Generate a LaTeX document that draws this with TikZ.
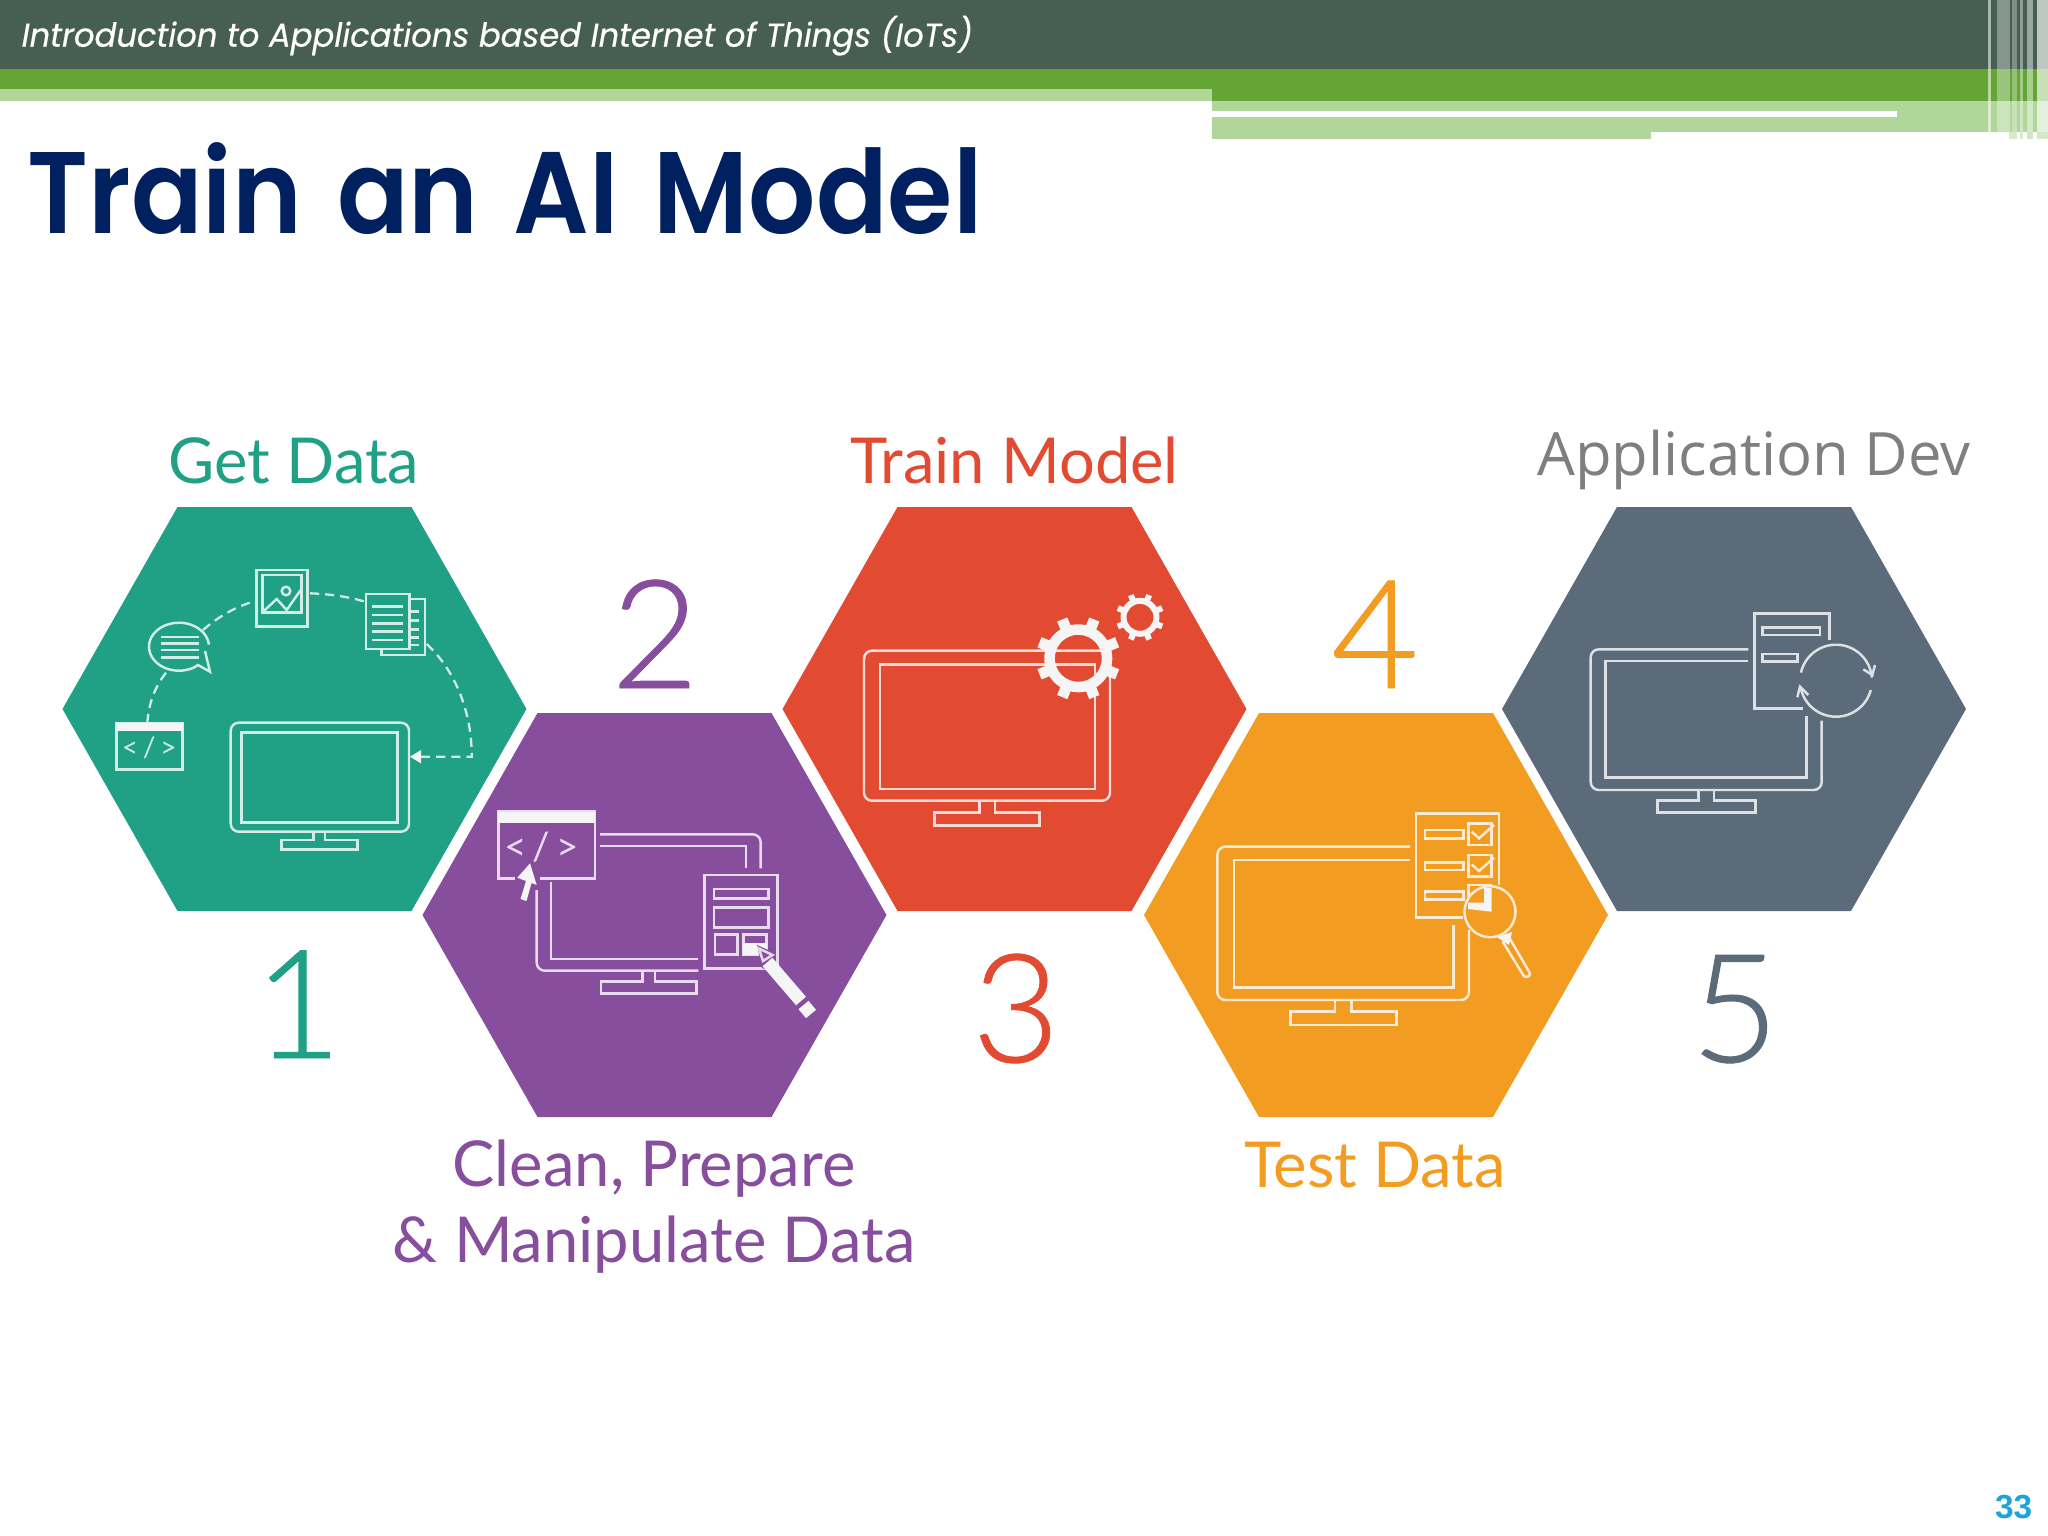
\documentclass[tikz,border=0pt]{standalone}
\usepackage{fontspec}
\setmainfont{Lato}
\newfontfamily\latolight{Lato Light}
\newfontfamily\latonum[FakeBold=0.6]{Lato Light}
\newfontfamily\opensans{Open Sans}
\newfontfamily\poppinsh[FakeBold=0.5,FakeStretch=0.975]{Poppins}
\newfontfamily\poppinst[FakeStretch=0.91,WordSpace=1.4]{Poppins SemiBold}
\newfontfamily\libsans{Liberation Sans}
\definecolor{cteal}{HTML}{20A084}
\definecolor{cpurple}{HTML}{874E9E}
\definecolor{cred}{HTML}{E24A32}
\definecolor{corange}{HTML}{F39C22}
\definecolor{cslate}{HTML}{5B6B7A}
\definecolor{cdark}{HTML}{465F52}
\definecolor{cgreen}{HTML}{65A536}
\definecolor{clight}{HTML}{B0D69A}
\definecolor{cnavy}{HTML}{00205F}
\definecolor{cpage}{HTML}{1FA3DC}
\definecolor{cappdev}{HTML}{7F7F7F}
\newcommand{\fsz}[1]{\fontsize{#1}{#1}\selectfont}
\tikzset{
  x=0.01cm,y=-0.01cm,
  hexa/.style={fill=#1,draw=none},
  icon/.style={draw=ic,line width=0.7pt,line cap=butt,fill=none},
  iconf/.style={fill=icw,draw=none},
  dashline/.style={draw=ic,line width=0.65pt,dash pattern=on 2.6pt off 1.7pt},
  lab/.style={anchor=base,inner sep=0pt,font=\fsz{18pt}},
  num/.style={anchor=base,inner sep=0pt,font=\latonum\fsz{43pt}},
  code/.style={anchor=center,inner sep=0pt,text=ic},
}
\newcommand{\hexat}[3]{\fill[hexa=#3] ({#1-232},#2) -- ({#1-117},{#2-202}) -- ({#1+117},{#2-202}) -- ({#1+232},#2) -- ({#1+117},{#2+202}) -- ({#1-117},{#2+202}) -- cycle;}
\newcommand{\gearat}[7]{% cx cy rin rbody rtooth toothw start
  \fill[icw,even odd rule] (#1,#2) circle[radius=#4] (#1,#2) circle[radius=#3];
  \foreach \a in {0,45,...,315}
    \draw[icw,line width=#6*0.2845pt] ({#1+(#4-2)*cos(\a+#7)},{#2+(#4-2)*sin(\a+#7)}) -- ({#1+#5*cos(\a+#7)},{#2+#5*sin(\a+#7)});
}
\colorlet{icw}{white!96!black}
\begin{document}
\begin{tikzpicture}
\useasboundingbox (0,0) rectangle (2048,1536);
\fill[white] (0,0) rectangle (2048,1536);
% header
\fill[cdark] (0,0) rectangle (2048,69);
\fill[cgreen] (0,69) rectangle (2048,89);
\fill[clight] (0,89) rectangle (1211.5,100.7);
\fill[cgreen] (1211.5,89) rectangle (2048,100.7);
\fill[clight] (1211.5,100.7) rectangle (2048,131.7);
\fill[clight] (1211.5,131.7) rectangle (1651,138.7);
\fill[white] (1211.5,111) rectangle (1897,117.3);
\foreach \xa/\xb/\op in {1987.5/1990.5/.55,1997/2010/.35,2012/2017/.3,2020/2023/.4,2027/2033/.45,2037/2048/.65}
  \fill[white,opacity=\op] (\xa,0) rectangle (\xb,131.7);
\foreach \xa/\xb/\op in {2009/2017/.5,2020/2023/.5,2027/2033/.6,2037/2048/.55}
  \fill[clight,opacity=\op] (\xa,131.7) rectangle (\xb,138.7);
\node[anchor=base west,inner sep=0pt,text=white,font=\poppinsh\itshape\fsz{9.4pt}] (headtext) at (21,46.7) {Introduction to Applications based Internet of Things (IoTs)};
\node[anchor=base west,inner sep=0pt,text=cnavy,font=\poppinst\fsz{33pt}] (title) at (27,233) {Train an AI Model};
% hexagons
\hexat{294.5}{709}{cteal}
\hexat{654.5}{915}{cpurple}
\hexat{1014.5}{709}{cred}
\hexat{1376}{915}{corange}
\hexat{1734}{709}{cslate}
% labels
\node[lab,text=cteal] (l1) at (294,483) {Get Data};
\node[lab,text=cred] (l3) at (1014.5,483) {Train Model};
\node[lab,text=cappdev,font=\opensans\fsz{17pt}] (l5) at (1754,475) {Application Dev};
\node[lab,text=cpurple] (l2a) at (654,1186) {Clean, Prepare};
\node[lab,text=cpurple] (l2b) at (654,1262) {\& Manipulate Data};
\node[lab,text=corange] (l4) at (1375,1187) {Test Data};
\node[num,text=cteal] (n1) at (298,1058) {1};
\node[num,text=cpurple] (n2) at (655,688) {2};
\node[num,text=cred] (n3) at (1016,1062) {3};
\node[num,text=corange] (n4) at (1375,688) {4};
\node[num,text=cslate] (n5) at (1735,1062) {5};
\node[anchor=base east,inner sep=0pt,text=cpage,font=\libsans\bfseries\fsz{9.5pt}] (page) at (2033,1518) {33};
% ---- icon 1
\colorlet{ic}{white!80!cteal}
\draw[icon,rounded corners=0.8mm] (230.7,722.7) rectangle (409,831.7);
\draw[icon] (241.7,732.3) rectangle (397.3,822.3);
\draw[icon] (313.3,831.7) -- (313.3,840) -- (281.7,840) -- (281.7,849.3) -- (357.7,849.3) -- (357.7,840) -- (325,840) -- (325,831.7);
\draw[icon] (116.7,723.3) rectangle (182.7,769.3);
\fill[iconf] (116.7,723.3) rectangle (182.7,730.7);
\node[code,font=\fsz{8pt}] (code1) at (149.3,748) {<\,/\,>};
\draw[icon] (205,651) -- (210,671.7) -- (198,665) -- plot[domain=60:355,samples=40] ({179+30*cos(\x)},{646.7+24*sin(\x)});
\foreach \yy in {637,643.5,650,657.5} \draw[icon] (161,\yy) -- (199.3,\yy);
\draw[icon] (256.7,570) rectangle (307.3,626.7);
\draw[icon] (262.3,575) rectangle (301.7,612.7);
\draw[icon] (263,611.7) -- (276.7,599) -- (286.7,610) -- (300.7,590);
\draw[icon] (286,591) circle[radius=4.3];
\draw[icon] (381.7,649) -- (381.7,655) -- (425,655) -- (425,599) -- (409.3,599);
\draw[icon] (366,594) rectangle (409.3,649);
\foreach \yy in {606.7,615,623.3,631.7,640} \draw[icon] (371.7,\yy) -- (403.3,\yy);
\foreach \yy in {611.7,620.7,629.3,637.3,645} \draw[icon] (410,\yy) -- (419.3,\yy);
\draw[dashline] (147.3,723) .. controls (149,700) and (157,683) .. (168.3,670);
\draw[dashline] (203,630) .. controls (218,617) and (235,607) .. (253,601.7);
\draw[dashline] (310,593.3) .. controls (330,594) and (350,597) .. (365,601.7);
\draw[dashline] (426.7,644) .. controls (455,670) and (472,712) .. (471.7,756.7) -- (421,756.7);
\fill[iconf] (410,756.7) -- (421,750) -- (421,763.4) -- cycle;
% ---- icon 2
\colorlet{ic}{white!80!cpurple}
\draw[icon] (498.3,811.7) rectangle (595,878.3);
\fill[iconf] (498.3,811.7) rectangle (595,822.7);
\node[code,font=\fsz{11pt}] (code2) at (541.7,846.7) {<\,/\,>};
\draw[icon,rounded corners=0.8mm] (600,834.3) -- (760.7,834.3) -- (760.7,868.3);
\draw[icon] (600,846) -- (746,846) -- (746,868.3);
\draw[icon,rounded corners=0.8mm] (536.7,883.3) -- (536.7,970.7) -- (698.3,970.7);
\draw[icon] (551,881.7) -- (551,959) -- (698.3,959);
\draw[icon] (642.3,971) -- (642.3,981.7) -- (601,981.7) -- (601,993.3) -- (696.7,993.3) -- (696.7,981.7) -- (655,981.7) -- (655,971);
\fill[cpurple] (515,875) rectangle (540,890);
\fill[iconf] (530,863.3) -- (517.3,877.7) -- (526,881) -- (520.5,899) -- (526.5,901) -- (531.5,883) -- (536.7,885) -- cycle;
\draw[icon] (704.3,875) rectangle (777.7,968.3);
\draw[icon] (714,889) rectangle (768.3,898.3);
\draw[icon] (714,907.3) rectangle (768.3,927.7);
\draw[icon] (715,934.3) rectangle (737.7,954.3);
\draw[icon] (743.3,934.3) rectangle (766.7,955);
\fill[iconf] (743.3,943.3) rectangle (766.7,955);
\fill[cpurple] (757,945) -- (775,953) -- (773,972) -- (762,968) -- cycle;
\draw[icon] (759,948.5) -- (772.5,955) -- (763,961) -- cycle;
\draw[icw,line width=3.7pt] (767.5,962) -- (801,1001);
\draw[icw,line width=3.7pt] (803.5,1005) -- (811,1014);
% ---- icon 3
\colorlet{ic}{white!80!cred}
\draw[icon,rounded corners=0.8mm] (864,650.7) rectangle (1110,800.7);
\draw[icon] (880,664.3) rectangle (1095,789);
\draw[icon] (979.3,800.7) -- (979.3,812.3) -- (934.3,812.3) -- (934.3,825.7) -- (1039.3,825.7) -- (1039.3,812.3) -- (995,812.3) -- (995,800.7);
\gearat{1078.3}{658.3}{23.5}{34}{42}{11}{22.5}
\gearat{1140}{617.3}{13.5}{19.5}{24}{6}{22.5}
% ---- icon 4
\colorlet{ic}{white!80!corange}
\draw[icon,rounded corners=0.8mm] (1410,846.7) -- (1217.3,846.7) -- (1217.3,1000) -- (1469,1000) -- (1469,930);
\draw[icon] (1410,860) -- (1234,860) -- (1234,987.3) -- (1453.3,987.3) -- (1453.3,925);
\draw[icon] (1335,1000) -- (1335,1011.7) -- (1290.7,1011.7) -- (1290.7,1025) -- (1396.7,1025) -- (1396.7,1011.7) -- (1351.7,1011.7) -- (1351.7,1000);
\draw[icon] (1499,885) -- (1499,813.3) -- (1416,813.3) -- (1416,917.3) -- (1463,917.3);
\foreach \yy/\yb in {830/838.3,862.7/870,891.7/899.3} \draw[icon] (1425,\yy) rectangle (1463.3,\yb);
\draw[icon] (1468.3,823.3) rectangle (1491.7,845);
\draw[icon] (1468.3,855) rectangle (1491.7,876.7);
\draw[icon] (1471.7,831.7) -- (1479,838.3) -- (1494,825);
\draw[icon] (1471.7,864.4) -- (1479,871) -- (1494,857.7);
\draw[icon] (1468.3,897) -- (1468.3,885) -- (1491.7,885);
\fill[iconf] (1484,888) -- (1484,902.7) -- (1468,902.7) -- (1468,909) -- (1491.7,911.7) -- (1491.7,888) -- cycle;
\draw[icon] (1490,911.7) circle[radius=25.5];
\fill[iconf] (1497,937) -- (1512,932) -- (1509,945) -- cycle;
\draw[icon,line cap=round,rounded corners=0.3mm] (1503,942) -- (1525,978) -- (1531,975) -- (1510,939);
% ---- icon 5
\colorlet{ic}{white!80!cslate}
\draw[icon,rounded corners=0.8mm] (1748.3,649.3) -- (1590.7,649.3) -- (1590.7,790) -- (1821.7,790) -- (1821.7,720.7);
\draw[icon] (1748.3,661) -- (1605.7,661) -- (1605.7,777.7) -- (1806.7,777.7) -- (1806.7,716);
\draw[icon] (1698.3,790) -- (1698.3,800.7) -- (1657.3,800.7) -- (1657.3,812.7) -- (1755.7,812.7) -- (1755.7,800.7) -- (1714,800.7) -- (1714,790);
\draw[icon] (1829.3,640) -- (1829.3,613.3) -- (1754.3,613.3) -- (1754.3,708.3) -- (1803.3,708.3);
\draw[icon] (1762.3,627.3) rectangle (1820,635);
\draw[icon] (1762.3,654) rectangle (1797.7,661.7);
\draw[icon] plot[domain=193:355,samples=40] ({1836+36*cos(\x)},{680.7+36*sin(\x)});
\draw[icon] plot[domain=15:170,samples=40] ({1836+36*cos(\x)},{680.7+36*sin(\x)});
\draw[icon] (1863.3,669.3) -- (1872.3,675) -- (1875,665);
\draw[icon] (1797.3,697.3) -- (1800,686.7) -- (1808.3,695);
\end{tikzpicture}
\end{document}
